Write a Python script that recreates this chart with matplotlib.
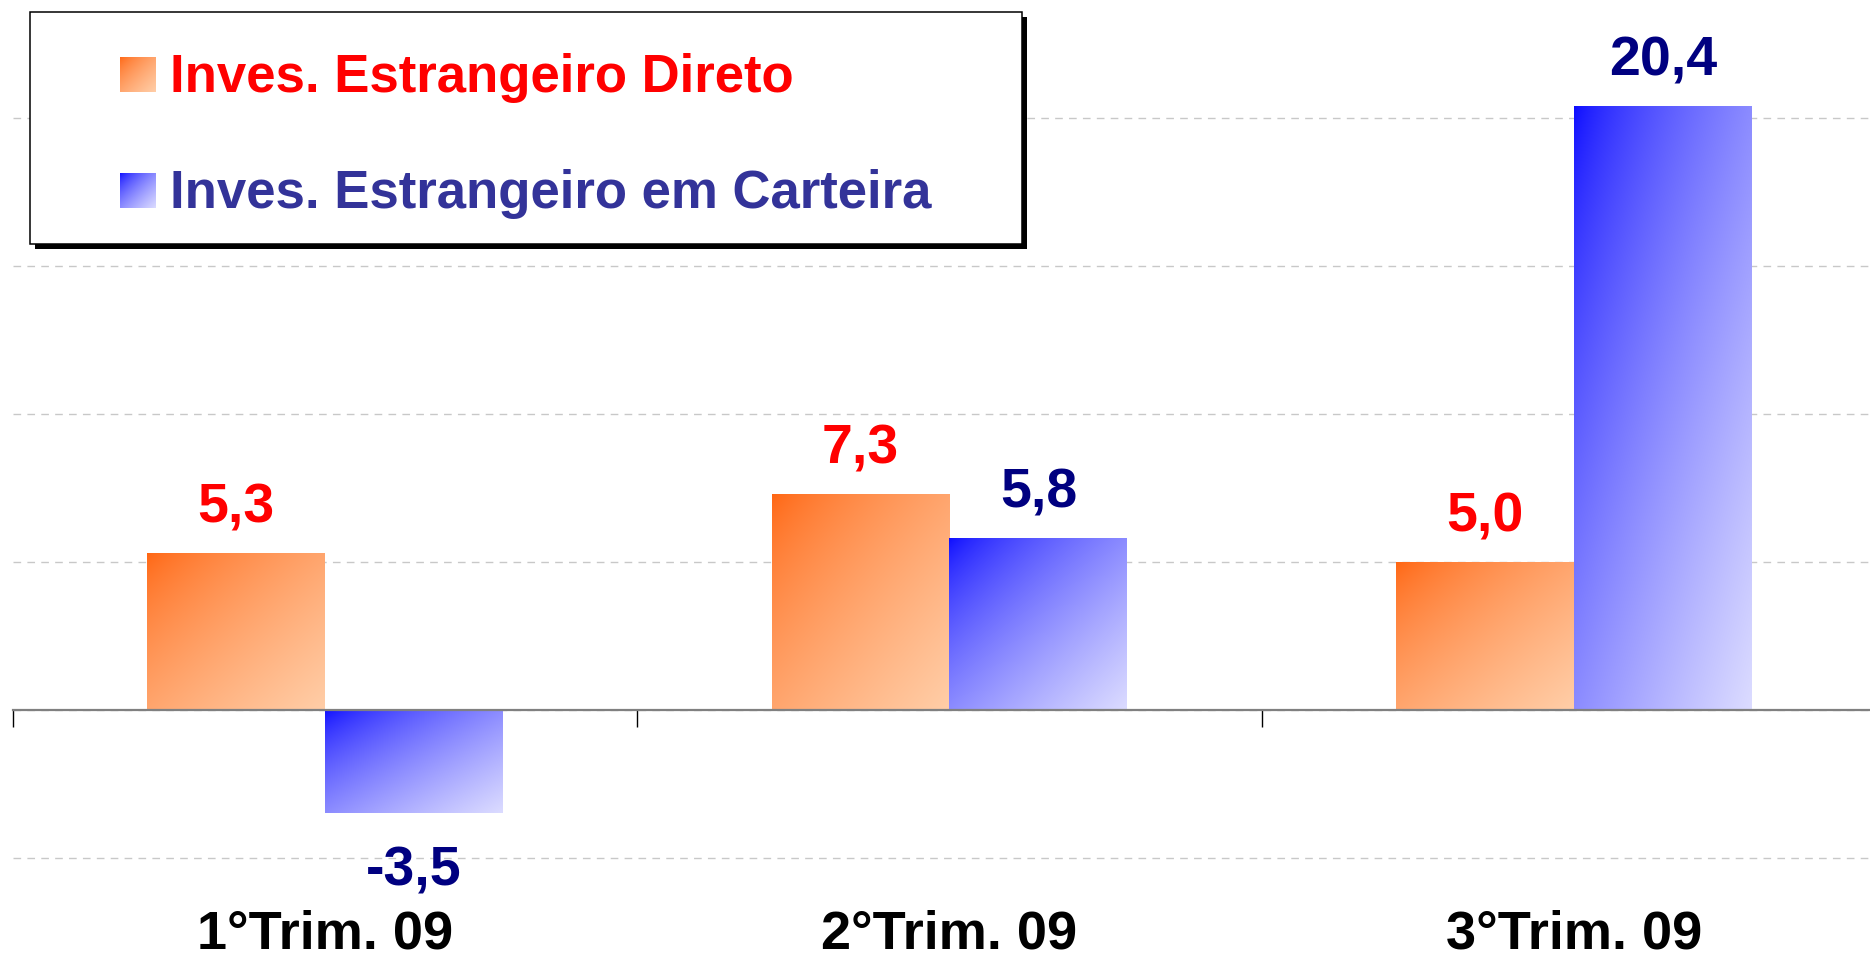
import numpy as np
import matplotlib
matplotlib.use('Agg')
import matplotlib.pyplot as plt
from matplotlib.colors import to_rgb
from matplotlib.patches import Rectangle

# ---- data ----
categories = ['1°Trim. 09', '2°Trim. 09', '3°Trim. 09']
series_names = ['Inves. Estrangeiro Direto', 'Inves. Estrangeiro em Carteira']
direto = [5.3, 7.3, 5.0]
carteira = [-3.5, 5.8, 20.4]
grid_values = [-5, 0, 5, 10, 15, 20]

# ---- style ----
plt.rcParams['font.family'] = ['Liberation Sans', 'DejaVu Sans']
plt.rcParams['font.weight'] = 'bold'

orange_dark, orange_light = '#FF6410', '#FFCEA8'
blue_dark, blue_light = '#0A0AFF', '#DCDCFF'
label_colors = ['#FF0000', '#000080']
legend_text_colors = ['#FF0000', '#333399']

W, H = 1870, 959
fig = plt.figure(figsize=(W / 100, H / 100), dpi=100)

zero_px = 709.6
px_per_unit = 29.58
ymin, ymax = -5.1, 24.0
bottom_px = zero_px - ymin * px_per_unit
ax_left = 13 / W
ax_width = 1873 / W
ax_bottom = (H - bottom_px) / H
ax_height = bottom_px / H
ax = fig.add_axes([ax_left, ax_bottom, ax_width, ax_height])


def gradient(c0, c1, n=256):
    c0 = np.array(to_rgb(c0))
    c1 = np.array(to_rgb(c1))
    u = np.linspace(0, 1, n)
    X, Y = np.meshgrid(u, u)
    t = ((X + Y) / 2) ** 0.7
    return c0 + (c1 - c0) * t[..., None]


x = np.arange(len(categories))
w = 0.285
bars1 = ax.bar(x - w / 2, direto, w, color='none', edgecolor='none', zorder=2)
bars2 = ax.bar(x + w / 2, carteira, w, color='none', edgecolor='none', zorder=2)

g_or = gradient(orange_dark, orange_light)
g_bl = gradient(blue_dark, blue_light)
for bars, g in ((bars1, g_or), (bars2, g_bl)):
    for b in bars:
        x0, y0 = b.get_x(), b.get_y()
        bw, bh = b.get_width(), b.get_height()
        ylo, yhi = min(y0, y0 + bh), max(y0, y0 + bh)
        im = ax.imshow(g, extent=(x0, x0 + bw, ylo, yhi), origin='upper',
                       aspect='auto', zorder=2, interpolation='bilinear')
        im.set_clip_path(b)

# value labels
for bars, vals, col in ((bars1, direto, label_colors[0]), (bars2, carteira, label_colors[1])):
    for b, v in zip(bars, vals):
        cx = b.get_x() + b.get_width() / 2
        txt = f'{v:.1f}'.replace('.', ',')
        if v >= 0:
            ax.annotate(txt, (cx, v), xytext=(0, 22), textcoords='offset points',
                        ha='center', va='baseline', fontsize=40, fontweight='bold',
                        color=col, zorder=5)
        else:
            ax.annotate(txt, (cx, v), xytext=(0, -23), textcoords='offset points',
                        ha='center', va='top', fontsize=40, fontweight='bold',
                        color=col, zorder=5)

ax.set_xlim(-0.5, 2.5)
ax.set_ylim(ymin, ymax)

for s in ('left', 'right', 'top'):
    ax.spines[s].set_visible(False)
ax.spines['bottom'].set_position(('data', 0))
ax.spines['bottom'].set_color('#808080')
ax.spines['bottom'].set_linewidth(1.6)
ax.spines['bottom'].set_zorder(4)

ax.set_yticks(grid_values)
ax.tick_params(axis='y', length=0, labelleft=False)
ax.yaxis.grid(True, linestyle=(0, (5.5, 4.5)), color='#C8C8C8', linewidth=1.0)
ax.set_axisbelow(True)

ax.set_xticks(x)
ax.set_xticklabels(categories, fontsize=39, fontweight='bold', color='black')
ax.tick_params(axis='x', which='major', length=0, pad=144)
ax.set_xticks([-0.5, 0.5, 1.5, 2.5], minor=True)
ax.tick_params(axis='x', which='minor', length=12, width=1.0, color='black', direction='out')

# ---- legend (figure pixel coordinates) ----
lax = fig.add_axes([0, 0, 1, 1], zorder=10)
lax.set_xlim(0, W)
lax.set_ylim(H, 0)
lax.axis('off')
lax.patch.set_alpha(0)
bx0, by0, bx1, by1 = 30, 12, 1022, 244
lax.add_patch(Rectangle((bx0 + 5, by0 + 5), bx1 - bx0, by1 - by0, facecolor='black',
                        edgecolor='none', zorder=1))
lax.add_patch(Rectangle((bx0, by0), bx1 - bx0, by1 - by0, facecolor='white',
                        edgecolor='black', linewidth=1.1, zorder=2))
rows = [(57, 92, g_or), (173, 208, g_bl)]
for (ytop, ybase, g), name, col in zip(rows, series_names, legend_text_colors):
    lax.imshow(g, extent=(120, 156, ybase, ytop), origin='upper', aspect='auto',
               zorder=3, interpolation='bilinear')
    lax.text(170, ybase, name, fontsize=38, fontweight='bold', color=col,
             ha='left', va='baseline', zorder=4)
lax.set_xlim(0, W)
lax.set_ylim(H, 0)

fig.savefig('out.png', dpi=100)
